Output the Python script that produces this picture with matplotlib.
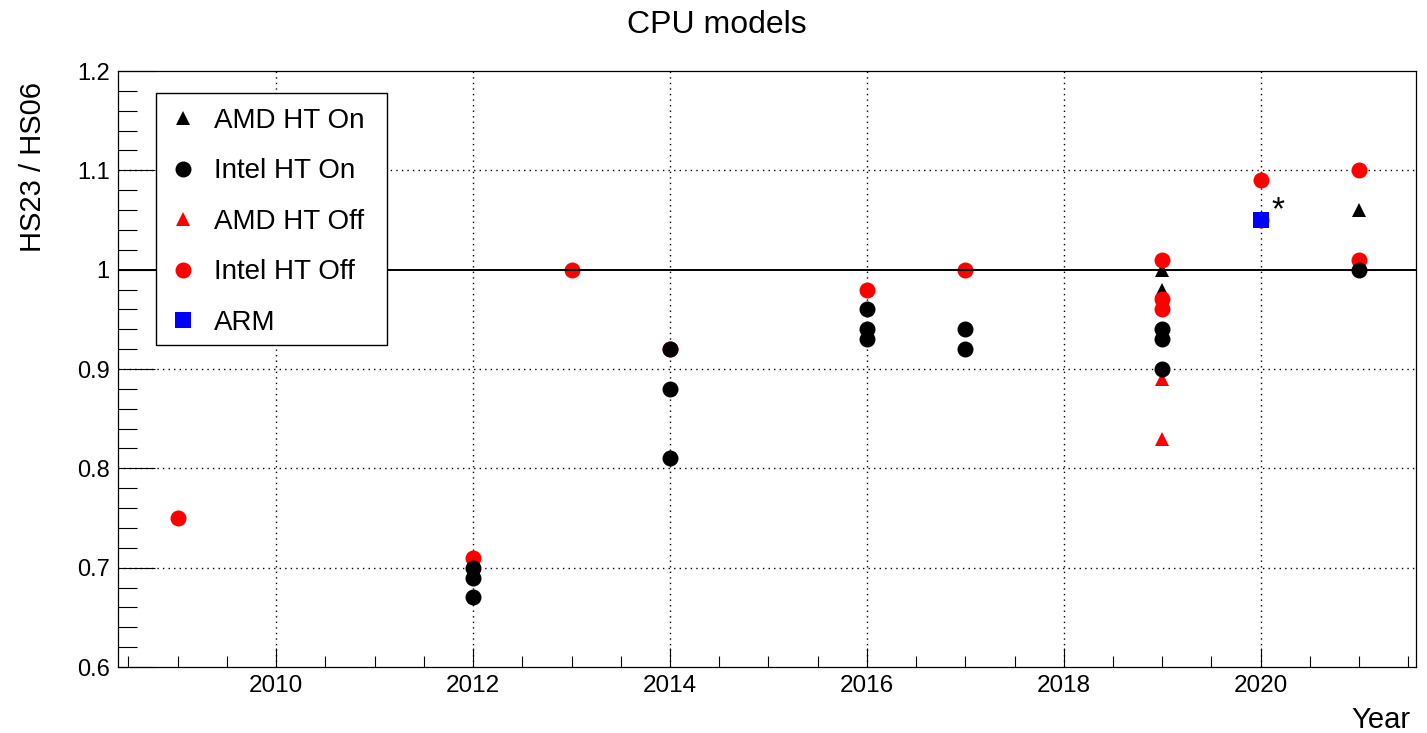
import matplotlib
matplotlib.use("Agg")
import matplotlib.pyplot as plt
from matplotlib.ticker import MultipleLocator, FixedLocator
from matplotlib.patches import Rectangle

plt.rcParams['font.family'] = ['Liberation Sans', 'DejaVu Sans']

# ---- data ----
amd_on_x = [2019, 2019, 2021]
amd_on_y = [1.00, 0.98, 1.06]

intel_on_x = [2012, 2012, 2012, 2014, 2014, 2014, 2016, 2016, 2016,
              2017, 2017, 2019, 2019, 2019, 2021]
intel_on_y = [0.70, 0.69, 0.67, 0.92, 0.88, 0.81, 0.96, 0.94, 0.93,
              0.94, 0.92, 0.94, 0.93, 0.90, 1.00]

amd_off_x = [2019, 2019]
amd_off_y = [0.89, 0.83]

intel_off_x = [2009, 2012, 2013, 2014, 2016, 2017, 2019, 2019, 2019,
               2020, 2020, 2021, 2021]
intel_off_y = [0.75, 0.71, 1.00, 0.92, 0.98, 1.00, 1.01, 0.97, 0.96,
               1.09, 1.05, 1.10, 1.01]

arm_x = [2020]
arm_y = [1.05]

x_ticks = [2010, 2012, 2014, 2016, 2018, 2020]
x_tick_labels = ["2010", "2012", "2014", "2016", "2018", "2020"]
y_ticks = [0.6, 0.7, 0.8, 0.9, 1.0, 1.1, 1.2]
y_tick_labels = ["0.6", "0.7", "0.8", "0.9", "1", "1.1", "1.2"]

# ---- figure ----
W, H = 1427, 733
fig = plt.figure(figsize=(W / 100, H / 100), dpi=100)
ax = fig.add_axes([118 / W, 1 - 667 / H, (1416 - 118) / W, (667 - 71) / H])
ax.set_xlim(2008.394, 2021.577)
ax.set_ylim(0.6, 1.2)

# grid
dot = (0, (1, 3))
for xv in x_ticks:
    ax.axvline(xv, color='black', lw=1.0, ls=dot, zorder=1)
for yv in y_ticks[1:-1]:
    if abs(yv - 1.0) > 1e-9:
        ax.axhline(yv, color='black', lw=1.0, ls=dot, zorder=1)

h_amd_on, = ax.plot(amd_on_x, amd_on_y, ls='none', marker='^', ms=10,
                    color='black', mew=0, zorder=3, label='AMD HT On')
h_amd_off, = ax.plot(amd_off_x, amd_off_y, ls='none', marker='^', ms=10,
                     color='red', mew=0, zorder=4, label='AMD HT Off')
h_int_off, = ax.plot(intel_off_x, intel_off_y, ls='none', marker='o', ms=11.5,
                     color='red', mew=0, zorder=5, label='Intel HT Off')
h_int_on, = ax.plot(intel_on_x, intel_on_y, ls='none', marker='o', ms=11.5,
                    color='black', mew=0, zorder=6, label='Intel HT On')
h_arm, = ax.plot(arm_x, arm_y, ls='none', marker='s', ms=11.5,
                 color='blue', mew=0, zorder=7, label='ARM')

ax.axhline(1.0, color='black', lw=1.4, zorder=8)

ax.text(2020.18, 1.059, '*', fontsize=24, ha='center', va='center', zorder=9)

# ticks
ax.xaxis.set_major_locator(FixedLocator(x_ticks))
ax.set_xticklabels(x_tick_labels)
ax.xaxis.set_minor_locator(MultipleLocator(0.5))
ax.yaxis.set_major_locator(FixedLocator(y_ticks))
ax.set_yticklabels(y_tick_labels)
ax.yaxis.set_minor_locator(MultipleLocator(0.02))
ax.tick_params(axis='x', which='major', direction='in', length=13.7, width=0.8,
               labelsize=17.5, pad=6, top=False)
ax.tick_params(axis='x', which='minor', direction='in', length=8, width=0.8, top=False)
ax.tick_params(axis='y', which='major', direction='in', length=26.6, width=0.8,
               labelsize=17, pad=6, right=False)
ax.tick_params(axis='y', which='minor', direction='in', length=13.7, width=0.8, right=False)
for s in ax.spines.values():
    s.set_linewidth(0.9)

# texts
fig.text(0.502, 1 - 33 / H, 'CPU models', fontsize=23, ha='center', va='baseline')
fig.text(33 / W, 1 - 82 / H, 'HS23 / HS06', fontsize=21, rotation=90,
         ha='center', va='top')
fig.text(1410 / W, 1 - 728 / H, 'Year', fontsize=21, ha='right', va='baseline')

# legend frame
frame = Rectangle((156 / W, 1 - 345 / H), (387 - 156) / W, (345 - 93) / H,
                  transform=fig.transFigure, facecolor='white',
                  edgecolor='black', lw=1.0, zorder=19, clip_on=False)
ax.add_patch(frame)
leg = ax.legend(handles=[h_amd_on, h_int_on, h_amd_off, h_int_off, h_arm],
                loc='upper left', bbox_to_anchor=(177.5 / W, 1 - 108 / H),
                bbox_transform=fig.transFigure, fontsize=20, frameon=False,
                borderpad=0, labelspacing=0.88,
                handlelength=0.4, handletextpad=0.9, borderaxespad=0,
                numpoints=1)
leg.set_zorder(20)

fig.savefig('out.png', dpi=100)
